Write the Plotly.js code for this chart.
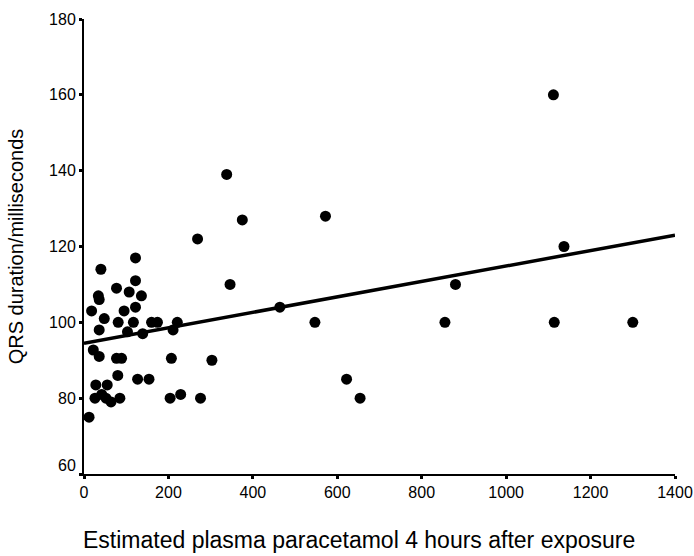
<!DOCTYPE html>
<html>
<head>
<meta charset="utf-8">
<script src="https://cdn.plot.ly/plotly-3.0.1.min.js"></script>
<style>html,body{margin:0;padding:0;background:#fff;}#chart{width:694px;height:556px;}</style>
</head>
<body>
<div id="chart"></div>
<script>
// Estimated plasma paracetamol (x) vs QRS duration in ms (y)
const paracetamol = [1112,1137,880,855,1114,1300,
  338,375,572,269,346,464,547,303,622,654,
  122,40,77,122,107,136,34,36,122,95,18,48,81,117,160,174,221,36,103,139,211,
  22,36,77,89,207,80,127,154,28,55,26,42,52,64,85,204,229,276,12];
const qrs = [160,120,110,100,100,100,
  139,127,128,122,110,104,100,90,85,80,
  117,114,109,111,108,107,107,106,104,103,103,101,100,100,100,100,100,98,97.5,97,98,
  92.7,91,90.5,90.5,90.5,86,85,85,83.5,83.5,80,81,80,79,80,80,81,80,75];
// regression line end points
const fitX = [0, 1400];
const fitY = [94.5, 123];
const xTicks = [0,200,400,600,800,1000,1200,1400];
const yTicks = [60,80,100,120,140,160,180];
const yTickText = ['', '80','100','120','140','160','180'];
const xTitle = 'Estimated plasma paracetamol 4 hours after exposure';
const yTitle = 'QRS duration/milliseconds';

const font = 'Liberation Sans, Arial, Helvetica, sans-serif';

const data = [
  {x: paracetamol, y: qrs, type: 'scatter', mode: 'markers',
   marker: {color: '#000', size: 11}, hoverinfo: 'x+y'},
  {x: fitX, y: fitY, type: 'scatter', mode: 'lines',
   line: {color: '#000', width: 3.5}, hoverinfo: 'skip'}
];

const layout = {
  width: 694, height: 556,
  margin: {l: 84, r: 19, t: 19, b: 82},
  paper_bgcolor: '#fff', plot_bgcolor: '#fff',
  showlegend: false,
  font: {family: font, color: '#000', size: 16},
  xaxis: {
    range: [0, 1400], tickvals: xTicks, ticktext: xTicks.map(String),
    showgrid: false, zeroline: false, showline: true, linecolor: '#000', linewidth: 2,
    ticks: 'outside', ticklen: 3, tickwidth: 3, tickcolor: '#000',
    tickfont: {family: font, size: 16, color: '#000'},
    automargin: false, fixedrange: true
  },
  yaxis: {
    range: [60, 180], tickvals: yTicks, ticktext: yTickText,
    showgrid: false, zeroline: false, showline: true, linecolor: '#000', linewidth: 2,
    ticks: 'outside', ticklen: 3, tickwidth: 3, tickcolor: '#000',
    tickfont: {family: font, size: 16, color: '#000'},
    title: {text: yTitle, font: {family: font, size: 20, color: '#000'}, standoff: 20},
    automargin: false, fixedrange: true
  },
  annotations: [
    {text: '60', xref: 'paper', yref: 'paper', x: 0, y: 0, xanchor: 'right', yanchor: 'middle',
     xshift: -6, yshift: 9, showarrow: false, font: {family: font, size: 16, color: '#000'}},
    {text: xTitle, xref: 'paper', yref: 'paper', x: 0.465, y: 0, xanchor: 'center', yanchor: 'middle',
     yshift: -66, showarrow: false, font: {family: font, size: 23, color: '#000'}}
  ]
};

Plotly.newPlot('chart', data, layout, {displayModeBar: false, staticPlot: true});
</script>
</body>
</html>
